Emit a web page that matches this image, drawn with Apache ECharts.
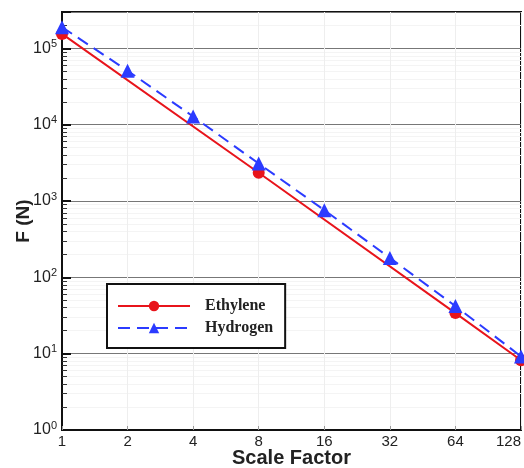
<!DOCTYPE html>
<html>
<head>
<meta charset="utf-8">
<script src="https://cdn.jsdelivr.net/npm/echarts@6/dist/echarts.min.js"></script>
<style>
  html, body { margin: 0; padding: 0; background: #fff; }
  #chart { width: 524px; height: 468px; }
</style>
</head>
<body>
<div id="chart"></div>
<script>
// scale factors and forces
var ethyleneX = [1, 8, 64, 128];
var ethyleneF = [155000, 2350, 34, 8.2];
var hydrogenX = [1, 2, 4, 8, 16, 32, 64, 128];
var hydrogenF = [190000, 51000, 12800, 3100, 760, 180, 42, 9.2];

function pairs(xs, ys) {
    return xs.map(function (x, i) { return [x, ys[i]]; });
}

var myChart = echarts.init(document.getElementById('chart'));
var option = {
    animation: false,
    grid: {
        left: 62,
        right: 3,
        top: 12,
        bottom: 38,
        outerBoundsMode: 'none',
        containLabel: false,
        show: true,
        borderColor: '#111',
        borderWidth: 2
    },
    legend: {
        left: 107,
        top: 284,
        orient: 'vertical',
        itemWidth: 72,
        itemHeight: 13,
        itemGap: 6,
        padding: [14, 12, 12, 10],
        borderColor: '#111',
        borderWidth: 2,
        backgroundColor: '#fff',
        textStyle: {
            fontFamily: 'Liberation Serif',
            fontWeight: 'bold',
            fontSize: 16,
            color: '#222',
            padding: [0, 0, 0, 10]
        },
        data: ['Ethylene', 'Hydrogen']
    },
    xAxis: {
        type: 'log',
        logBase: 2,
        min: 1,
        max: 128,
        name: 'Scale Factor',
        nameLocation: 'middle',
        nameGap: 18,
        nameMoveOverlap: false,
        nameTextStyle: {
            fontFamily: 'Liberation Sans',
            fontWeight: 'bold',
            fontSize: 20,
            color: '#222'
        },
        axisLine: { lineStyle: { color: '#111', width: 2 } },
        axisTick: { inside: true, length: 4, lineStyle: { color: '#999' } },
        axisLabel: {
            fontFamily: 'Liberation Sans',
            fontSize: 15,
            color: '#222',
            margin: 4,
            alignMaxLabel: 'right'
        },
        splitLine: { show: true, lineStyle: { color: '#eee', width: 1 } }
    },
    yAxis: {
        type: 'log',
        logBase: 10,
        min: 1,
        max: 300000,
        name: 'F (N)',
        nameLocation: 'middle',
        nameGap: 29,
        nameMoveOverlap: false,
        nameTextStyle: {
            fontFamily: 'Liberation Sans',
            fontWeight: 'bold',
            fontSize: 19,
            color: '#222'
        },
        axisLine: { lineStyle: { color: '#111', width: 2 } },
        axisTick: { inside: true, length: 9, lineStyle: { color: '#111', width: 2 } },
        minorTick: { show: true, splitNumber: 9, length: 5, lineStyle: { color: '#333' } },
        minorSplitLine: { show: true, lineStyle: { color: '#f4f4f4' } },
        axisLabel: {
            showMaxLabel: false,
            margin: 5,
            formatter: function (v) {
                var e = Math.round(Math.log10(v));
                return '{b|10}{s|' + e + '}';
            },
            rich: {
                b: { fontFamily: 'Liberation Sans', fontSize: 16, color: '#222' },
                s: { fontFamily: 'Liberation Sans', fontSize: 11, color: '#222', padding: [0, 0, 9, 0] }
            }
        },
        splitLine: { show: true, lineStyle: { color: '#777', width: 1 } }
    },
    series: [
        {
            name: 'Ethylene',
            type: 'line',
            data: pairs(ethyleneX, ethyleneF),
            symbol: 'circle',
            symbolSize: 12,
            clip: false,
            z: 3,
            lineStyle: { color: '#e8141b', width: 2 },
            itemStyle: { color: '#e8141b' }
        },
        {
            name: 'Hydrogen',
            type: 'line',
            data: pairs(hydrogenX, hydrogenF),
            symbol: 'triangle',
            symbolSize: 14,
            clip: false,
            z: 4,
            lineStyle: { color: '#2b3bff', width: 2, type: [12, 7] },
            itemStyle: { color: '#2b3bff' }
        }
    ]
};
myChart.setOption(option);

window.addEventListener('resize', function () {
    myChart.resize();
});
</script>
</body>
</html>
